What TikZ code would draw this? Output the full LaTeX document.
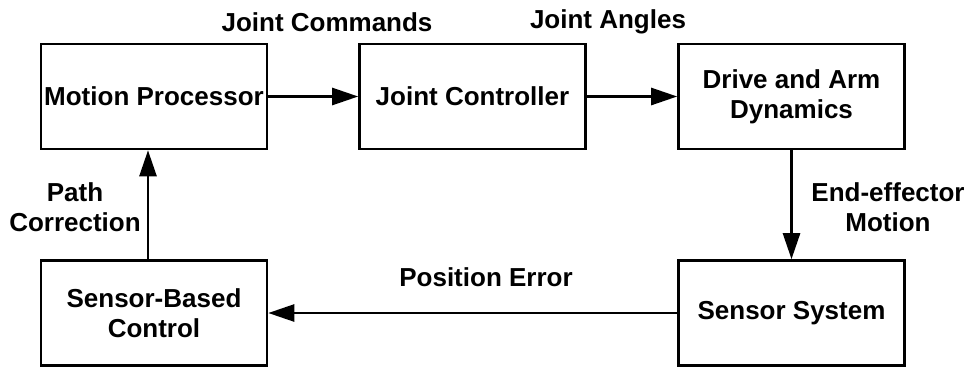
\documentclass[tikz,border=0pt]{standalone}
\usepackage{fontspec}
\setmainfont{Liberation Sans}
\usetikzlibrary{arrows.meta}
\begin{document}
\begin{tikzpicture}[x=1pt,y=-1pt,
  block/.style={draw=black,line width=2.6pt,minimum width=226pt,minimum height=105pt,
    inner sep=0pt,align=center,font=\bfseries\fontsize{26}{30}\selectfont},
  lbl/.style={inner sep=0pt,align=center,font=\bfseries\fontsize{26}{30}\selectfont},
  flow/.style={line width=2.6pt,-{Triangle[length=26pt,width=17pt]}}]
  \useasboundingbox (0,0) rectangle (973,367);
  % processing blocks
  \node[block] (mp)  at (154,96.5)   {Motion Processor};
  \node[block] (jc)  at (472.5,96.5) {Joint Controller};
  \node[block] (dd)  at (791.5,96.5) {Drive and Arm\\Dynamics};
  \node[block] (sbc) at (154,313)    {Sensor-Based\\Control};
  \node[block] (ss)  at (791.5,313)  {Sensor System};
  % signal labels
  \node[lbl] (lcmd) at (327,22)  {Joint Commands};
  \node[lbl] (lang) at (608,22)  {Joint Angles};
  \node[lbl] (lpos) at (486,277) {Position Error};
  \node[lbl] (lpath) at (75,207) {Path\\Correction};
  \node[lbl] (lend) at (888,207) {End-effector\\Motion};
  % signal flow
  \draw[flow] (mp.east) -- (jc.west);
  \draw[flow] (jc.east) -- (dd.west);
  \draw[flow] (dd.south) -- (ss.north);
  \draw[flow] (ss.west) -- (sbc.east);
  \draw[flow] ([xshift=-6pt]sbc.north) -- ([xshift=-6pt]mp.south);
\end{tikzpicture}
\end{document}
